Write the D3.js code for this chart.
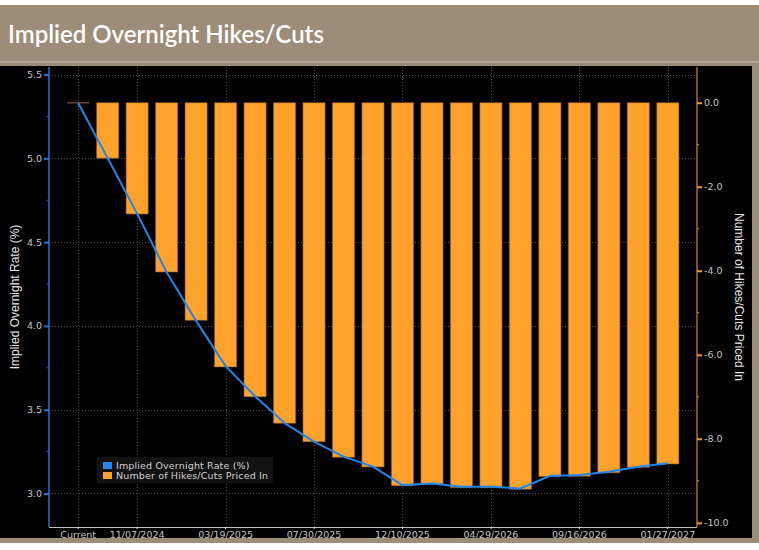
<!DOCTYPE html>
<html>
<head>
<meta charset="utf-8">
<script src="https://cdn.jsdelivr.net/npm/d3@7/dist/d3.min.js"></script>
<style>
  html, body { margin: 0; padding: 0; background: #ffffff; }
  svg { display: block; }
</style>
</head>
<body>
<div id="chart"></div>
<script>
// FOMC meeting dates (first entry is the current policy rate)
const categories = [
  "Current", "09/18/2024", "11/07/2024", "12/18/2024", "01/29/2025", "03/19/2025",
  "05/07/2025", "06/18/2025", "07/30/2025", "09/17/2025", "10/29/2025", "12/10/2025",
  "01/28/2026", "03/18/2026", "04/29/2026", "06/17/2026", "07/29/2026", "09/16/2026",
  "10/28/2026", "12/09/2026", "01/27/2027"
];
const tickLabels = ["Current", "11/07/2024", "03/19/2025", "07/30/2025", "12/10/2025",
  "04/29/2026", "09/16/2026", "01/27/2027"];

// Implied overnight rate (%) at each meeting
const impliedRate = [5.33, 5.00, 4.67, 4.32, 4.03, 3.76, 3.58, 3.42, 3.31, 3.22, 3.16,
  3.05, 3.06, 3.04, 3.04, 3.03, 3.105, 3.11, 3.13, 3.16, 3.18];
// Cumulative number of 25bp hikes/cuts priced in
const hikesCuts = [0, -1.32, -2.65, -4.03, -5.18, -6.29, -7.00, -7.63, -8.07, -8.44, -8.67,
  -9.12, -9.08, -9.16, -9.16, -9.20, -8.90, -8.89, -8.81, -8.68, -8.60];

const leftTicks = [3.0, 3.5, 4.0, 4.5, 5.0, 5.5];
const leftMinor = [3.25, 3.75, 4.25, 4.75, 5.25];
const rightTicks = [0, -2, -4, -6, -8, -10];
const rightMinor = [-1, -3, -5, -7, -9];

const title = "Implied Overnight Hikes/Cuts";
const leftTitle = "Implied Overnight Rate (%)";
const rightTitle = "Number of Hikes/Cuts Priced In";
const legendItems = [
  { name: "Implied Overnight Rate (%)", color: "#1f86ec" },
  { name: "Number of Hikes/Cuts Priced In", color: "#ffa22c" }
];

const W = 759, H = 550;
const plot = { left: 49, right: 697, top: 67, bottom: 527 };
const tickFont = "DejaVu Sans, Verdana, sans-serif";
const fmt = v => v.toFixed(1);

const svg = d3.select("#chart").append("svg")
  .attr("width", W).attr("height", H);

// frame
svg.append("rect").attr("x", 0).attr("y", 0).attr("width", W).attr("height", H).attr("fill", "#ffffff");
svg.append("rect").attr("x", 0).attr("y", 5).attr("width", W).attr("height", 538).attr("fill", "#9c8d79");
svg.append("rect").attr("x", 0).attr("y", 61).attr("width", W).attr("height", 1.5).attr("fill", "#b9ad9c");
svg.append("rect").attr("x", 0).attr("y", 66).attr("width", 752).attr("height", 472).attr("fill", "#000000");

svg.append("text")
  .attr("x", 8).attr("y", 43)
  .attr("fill", "#ffffff")
  .style("font-family", "Lato, 'Open Sans', sans-serif")
  .style("font-size", "24px")
  .style("font-weight", 600)
  .text(title);

// scales
const x = d3.scaleBand().domain(categories)
  .range([plot.left, plot.right]).paddingInner(0.25).paddingOuter(0.615);
const yL = d3.scaleLinear().domain([2.8, 5.545]).range([plot.bottom, plot.top]);
const yR = d3.scaleLinear().domain([-10.1, 0.85]).range([plot.bottom, plot.top]);

// grid
const grid = svg.append("g").attr("stroke", "#4a4a4a").attr("stroke-dasharray", "1,2").attr("stroke-width", 1);
grid.selectAll("line.h").data(leftTicks).join("line")
  .attr("x1", plot.left).attr("x2", plot.right)
  .attr("y1", d => Math.round(yL(d)) + 0.5).attr("y2", d => Math.round(yL(d)) + 0.5);
grid.selectAll("line.v").data(tickLabels).join("line")
  .attr("y1", plot.top).attr("y2", plot.bottom)
  .attr("x1", d => Math.round(x(d) + x.bandwidth() / 2) + 0.5)
  .attr("x2", d => Math.round(x(d) + x.bandwidth() / 2) + 0.5);

// bars
svg.append("g").selectAll("path").data(categories).join("path")
  .attr("d", (c, i) => {
    const x0 = x(c), w = x.bandwidth();
    const y0 = yR(0), y1 = yR(hikesCuts[i]);
    return `M${x0},${y0}H${x0 + w}V${y1}H${x0}Z`;
  })
  .attr("fill", "#ffa22c")
  .attr("stroke", (c, i) => hikesCuts[i] === 0 ? "#6a3f30" : "#8a5a34")
  .attr("stroke-width", (c, i) => hikesCuts[i] === 0 ? 1.5 : 0.6);

// implied rate line
const line = d3.line()
  .x((d, i) => x(categories[i]) + x.bandwidth() / 2)
  .y(d => yL(d));
svg.append("path").datum(impliedRate)
  .attr("d", line)
  .attr("fill", "none")
  .attr("stroke", "#1f86ec")
  .attr("stroke-width", 2)
  .attr("stroke-linejoin", "round");

// left axis
const axL = svg.append("g").attr("transform", `translate(${plot.left},0)`)
  .call(d3.axisLeft(yL).tickValues(leftTicks).tickFormat(fmt).tickSize(5).tickPadding(2));
axL.select(".domain").attr("stroke", "#2a72d8").attr("stroke-width", 1.5)
  .attr("d", `M0,${plot.top}V${plot.bottom}`);
axL.selectAll(".tick line").attr("stroke", "#2a72d8").attr("stroke-width", 2);
axL.selectAll(".tick text").attr("fill", "#c4c4c4")
  .style("font-family", tickFont).style("font-size", "9.5px");
axL.selectAll("line.minor").data(leftMinor).join("line").attr("class", "minor")
  .attr("x1", -2).attr("x2", 0).attr("y1", d => yL(d)).attr("y2", d => yL(d))
  .attr("stroke", "#2a72d8").attr("stroke-width", 1);

// right axis
const axR = svg.append("g").attr("transform", `translate(${plot.right},0)`)
  .call(d3.axisRight(yR).tickValues(rightTicks).tickFormat(fmt).tickSize(5).tickPadding(2));
axR.select(".domain").attr("stroke", "#d98a2e").attr("stroke-width", 1.2)
  .attr("d", `M0,${plot.top}V${plot.bottom}`);
axR.selectAll(".tick line").attr("stroke", "#f39a2a").attr("stroke-width", 2);
axR.selectAll(".tick text").attr("fill", "#c4c4c4")
  .style("font-family", tickFont).style("font-size", "9.5px");
axR.selectAll("line.minor").data(rightMinor).join("line").attr("class", "minor")
  .attr("x1", 0).attr("x2", 2).attr("y1", d => yR(d)).attr("y2", d => yR(d))
  .attr("stroke", "#d98a2e").attr("stroke-width", 1);

// bottom axis
const axB = svg.append("g").attr("transform", `translate(0,${plot.bottom})`)
  .call(d3.axisBottom(x).tickValues(tickLabels).tickSize(2).tickPadding(2));
axB.select(".domain").attr("stroke", "#bdbdbd").attr("stroke-width", 1)
  .attr("d", `M${plot.left},0.5H${plot.right}`);
axB.selectAll(".tick line").attr("stroke", "#e0e0e0");
axB.selectAll(".tick text").attr("fill", "#c4c4c4")
  .style("font-family", tickFont).style("font-size", "9.5px");

// axis titles
svg.append("text")
  .attr("transform", `translate(19,${(plot.top + plot.bottom) / 2}) rotate(-90)`)
  .attr("text-anchor", "middle")
  .attr("fill", "#e6e6e6")
  .style("font-family", "'Liberation Sans Narrow', 'Arial Narrow', sans-serif")
  .style("font-size", "12px")
  .text(leftTitle);
svg.append("text")
  .attr("transform", `translate(735,${(plot.top + plot.bottom) / 2}) rotate(90)`)
  .attr("text-anchor", "middle")
  .attr("fill", "#e6e6e6")
  .style("font-family", "'Liberation Sans Narrow', 'Arial Narrow', sans-serif")
  .style("font-size", "12px")
  .text(rightTitle);

// legend
const lg = svg.append("g").attr("transform", "translate(97,457)");
lg.append("rect").attr("width", 176).attr("height", 26).attr("fill", "#121212");
const li = lg.selectAll("g.item").data(legendItems).join("g")
  .attr("transform", (d, i) => `translate(6,${5 + i * 10})`);
li.append("rect").attr("width", 9).attr("height", 7).attr("fill", d => d.color);
li.append("text").attr("x", 13).attr("y", 7)
  .attr("fill", "#d0d0d0")
  .style("font-family", tickFont).style("font-size", "9.5px")
  .style("letter-spacing", "0.15px")
  .text(d => d.name);
</script>
</body>
</html>
